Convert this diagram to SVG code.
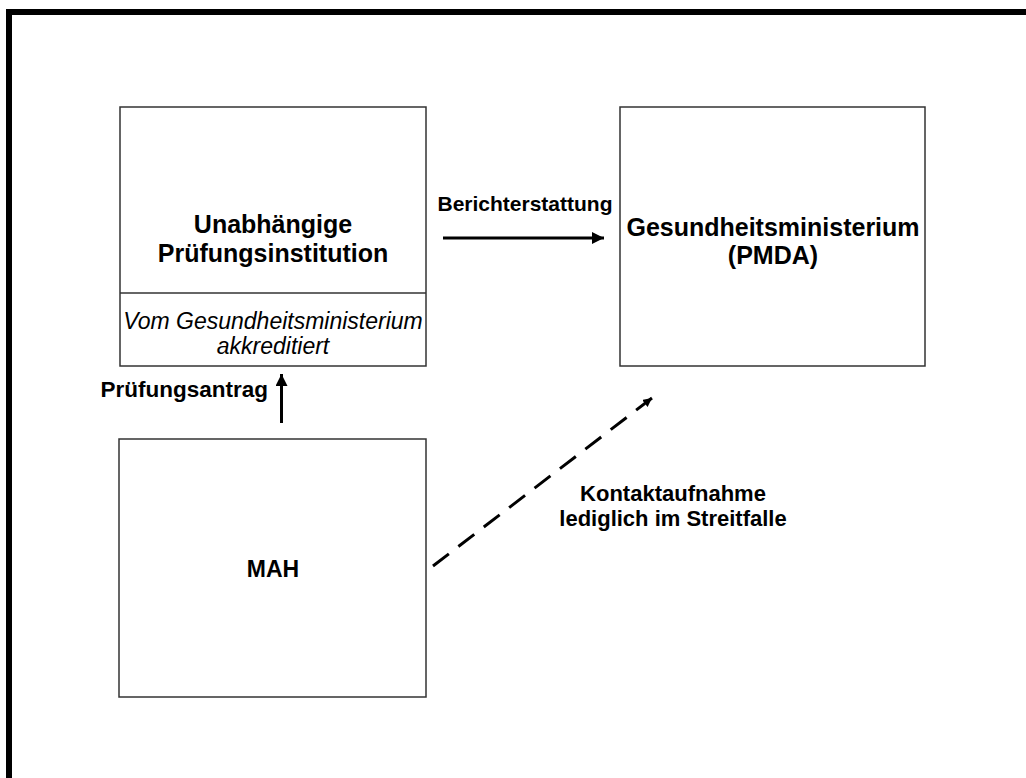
<svg xmlns="http://www.w3.org/2000/svg" width="1026" height="778" viewBox="0 0 1026 778">
<defs>
<style>
.box{fill:#fff;stroke:#333;stroke-width:1.5}
.t{font-family:"Liberation Sans",Arial,sans-serif;fill:#000;text-anchor:middle}
.b{font-weight:bold}
.i{font-style:italic}
.c{fill:none;stroke:#000;stroke-width:3}
</style>
<marker id="ah" viewBox="0 0 10 10" refX="10" refY="5" markerWidth="4" markerHeight="4" markerUnits="strokeWidth" orient="auto"><path d="M0,0 L10,5 L0,10 z" fill="#000"/></marker>
<marker id="ah2" viewBox="0 0 10 10" refX="10" refY="5" markerWidth="3" markerHeight="3" markerUnits="strokeWidth" orient="auto"><path d="M0,0 L10,5 L0,10 z" fill="#000"/></marker>
</defs>
<rect width="1026" height="778" fill="#fff"/>
<g id="frame">
<rect x="6" y="9" width="1020" height="6" fill="#000"/>
<rect x="6" y="9" width="6" height="769" fill="#000"/>
</g>
<g id="node-pruefinst">
<rect class="box" x="120" y="107" width="306" height="259"/>
<line x1="120" y1="293" x2="426" y2="293" stroke="#333" stroke-width="1.5"/>
<text class="t b" x="273" y="233" font-size="25">Unabhängige</text>
<text class="t b" x="273" y="262" font-size="25">Prüfungsinstitution</text>
<text class="t i" x="273" y="329" font-size="23">Vom Gesundheitsministerium</text>
<text class="t i" x="273" y="354" font-size="23">akkreditiert</text>
</g>
<g id="node-ministerium">
<rect class="box" x="620" y="107" width="305" height="259"/>
<text class="t b" x="773" y="236" font-size="25">Gesundheitsministerium</text>
<text class="t b" x="773" y="264" font-size="25">(PMDA)</text>
</g>
<g id="node-mah">
<rect class="box" x="119" y="439" width="307" height="258"/>
<text class="t b" x="273" y="577" font-size="23">MAH</text>
</g>
<g id="connectors">
<line class="c" x1="443" y1="238" x2="604" y2="238" marker-end="url(#ah)"/>
<line class="c" x1="281.5" y1="423" x2="281.5" y2="374" marker-end="url(#ah)"/>
<line class="c" x1="433" y1="566" x2="652" y2="398" stroke-width="5" stroke-dasharray="20 12" marker-end="url(#ah2)"/>
</g>
<g id="labels">
<text class="t b" x="525" y="211" font-size="21">Berichterstattung</text>
<text class="t b" x="268" y="397" font-size="22.5" style="text-anchor:end">Prüfungsantrag</text>
<text class="t b" x="673" y="501" font-size="22">Kontaktaufnahme</text>
<text class="t b" x="673" y="526" font-size="22">lediglich im Streitfalle</text>
</g>
</svg>
